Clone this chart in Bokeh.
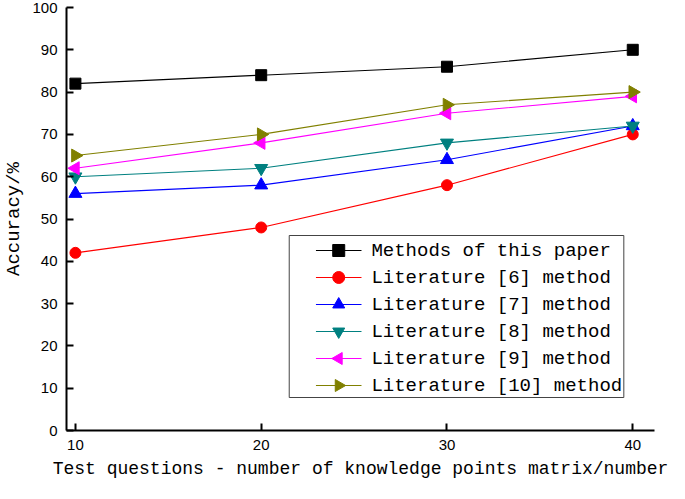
import math
from bokeh.plotting import figure
from bokeh.models import Range1d, FixedTicker
from bokeh.core.properties import value
from bokeh.embed import file_html
from bokeh.resources import INLINE

# ---- data ----
x_vals = [10, 20, 30, 40]
ours = [82, 84, 86, 90]
lit6 = [42, 48, 58, 70]
lit7 = [56, 58, 64, 72]
lit8 = [60, 62, 68, 72]
lit9 = [62, 68, 75, 79]
lit10 = [65, 70, 77, 80]
y_ticks = list(range(0, 101, 10))
names = ["Methods of this paper", "Literature [6] method", "Literature [7] method",
         "Literature [8] method", "Literature [9] method", "Literature [10] method"]
x_title = "Test questions - number of knowledge points matrix/number"
y_title = "Accuracy/%"

# ---- styles ----
colors = ["#000000", "#FF0000", "#0000FF", "#008080", "#FF00FF", "#808000"]
markers = ["square", "circle", "triangle", "inverted_triangle", "triangle", "triangle"]
angles = [0, 0, 0, 0, math.pi / 2, -math.pi / 2]
msizes = [11, 11, 13, 13, 13, 13]
series = [ours, lit6, lit7, lit8, lit9, lit10]

W, H = 669, 483
BL, BR, BT, BB = 60, 15, 7, 53
FW, FH = W - BL - BR, H - BT - BB
p = figure(width=W, height=H, output_backend="svg", toolbar_location=None,
           x_range=Range1d(9.52, 41.17), y_range=Range1d(0, 100),
           min_border_left=BL, min_border_right=BR, min_border_top=BT, min_border_bottom=BB)
p.outline_line_color = None
p.grid.visible = False

for ys, c, m, a, s in zip(series, colors, markers, angles, msizes):
    p.line(x_vals, ys, line_color=c, line_width=1.1)
    p.scatter(x_vals, ys, marker=m, size=s, angle=a, fill_color=c, line_color=c)

for ax in (p.xaxis[0], p.yaxis[0]):
    ax.major_tick_in = 7
    ax.major_tick_out = 0
    ax.minor_tick_line_color = None
    ax.axis_line_width = 2
    ax.major_tick_line_width = 2
    ax.major_label_text_font = "Liberation Sans"
    ax.major_label_text_font_size = "15px"
    ax.major_label_text_color = "black"
    ax.major_label_standoff = 9
    ax.axis_label_text_font = "Liberation Mono"
    ax.axis_label_text_font_style = "normal"
    ax.axis_label_text_color = "black"

p.xaxis.ticker = FixedTicker(ticks=x_vals)
p.yaxis.ticker = FixedTicker(ticks=y_ticks)
p.xaxis.axis_label = x_title
p.xaxis.axis_label_text_font_size = "18px"
p.xaxis.axis_label_standoff = 6
p.yaxis.axis_label = y_title
p.yaxis.axis_label_text_font_size = "19px"
p.yaxis.axis_label_standoff = 4

# ---- legend (drawn in pixel space of the frame) ----
p.extra_x_ranges = {"px": Range1d(0, FW)}
p.extra_y_ranges = {"py": Range1d(0, FH)}
box_l, box_r, box_b, box_t = 225, 563, 33, 195
row_h = 27
first_row = 180
line_x0, line_x1 = 252, 298
text_x = 308

p.quad(left=[box_l], right=[box_r], bottom=[box_b], top=[box_t],
       fill_color="white", line_color="#444444", line_width=1,
       x_range_name="px", y_range_name="py")
for i, (nm, c, m, a) in enumerate(zip(names, colors, markers, angles)):
    yy = first_row - i * row_h
    p.segment(x0=[line_x0], y0=[yy], x1=[line_x1], y1=[yy], line_color=c, line_width=1.1,
              x_range_name="px", y_range_name="py")
    p.scatter(x=[(line_x0 + line_x1) / 2], y=[yy], marker=m, angle=a, size=12,
              fill_color=c, line_color=c, x_range_name="px", y_range_name="py")
    p.text(x=[text_x], y=[yy], text=[nm], text_font=value("Liberation Mono"),
           text_font_size=value("19px"), text_baseline="middle", text_align="left",
           text_color="black", x_range_name="px", y_range_name="py")

open("out.html", "w").write(file_html(p, INLINE))
